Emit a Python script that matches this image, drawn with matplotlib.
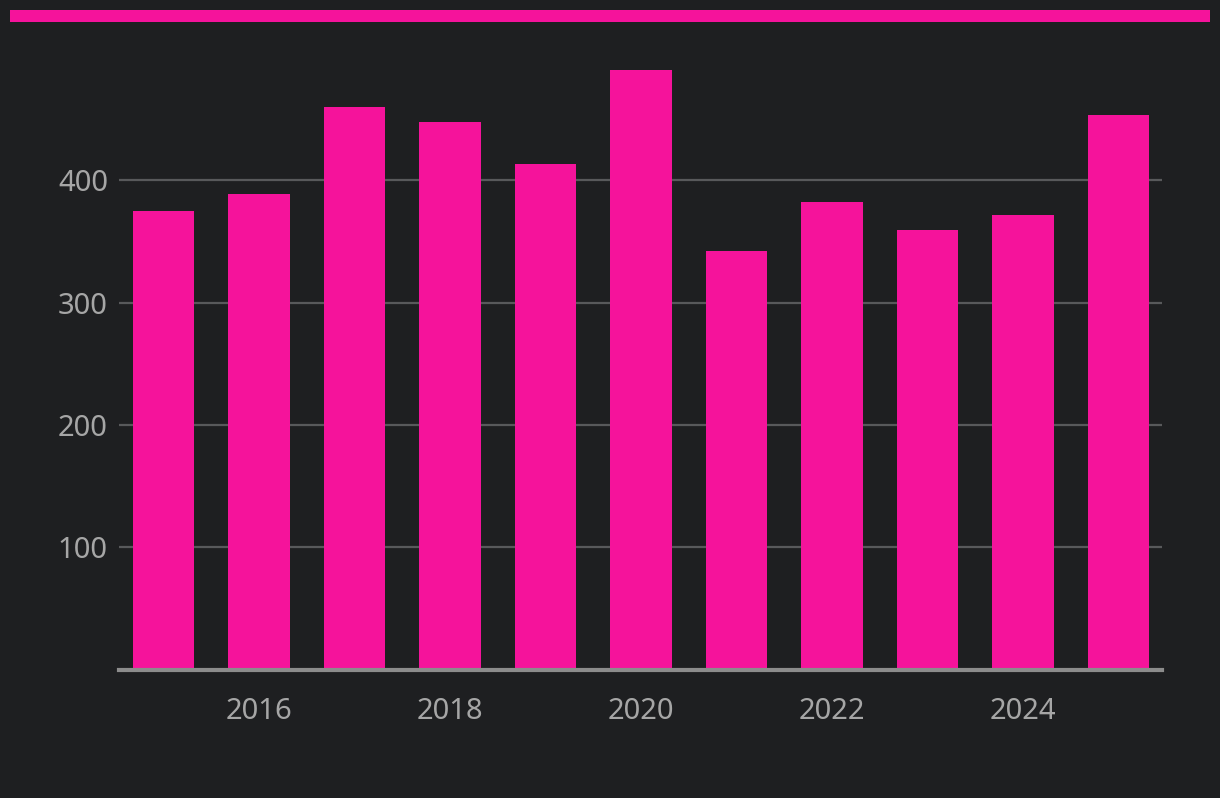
import matplotlib
matplotlib.use("Agg")
import matplotlib.pyplot as plt
from matplotlib.patches import Rectangle

years = [2015, 2016, 2017, 2018, 2019, 2020, 2021, 2022, 2023, 2024, 2025]
values = [375, 389, 460, 448, 413, 490, 342, 382, 359, 372, 453]
yticks = [100, 200, 300, 400]
xticks = [2016, 2018, 2020, 2022, 2024]

BG = "#1e1f21"
PINK = "#f5139b"
W, H = 1220, 798
DPI = 100

plt.rcParams['font.family'] = ['Noto Sans', 'DejaVu Sans']
fig = plt.figure(figsize=(W / DPI, H / DPI), dpi=DPI, facecolor=BG)

# top accent bar
fig.patches.append(Rectangle((10 / W, 1 - 22 / H), 1200 / W, 12 / H,
                             transform=fig.transFigure, facecolor=PINK,
                             edgecolor='none'))

ax_l, ax_r = 119, 1162
ax_t, ax_b = 58, 669.5
ax = fig.add_axes([ax_l / W, 1 - ax_b / H, (ax_r - ax_l) / W, (ax_b - ax_t) / H])
ax.set_facecolor(BG)

ax.bar(years, values, width=0.64, color=PINK, zorder=3)
ax.set_xlim(2014.534, 2025.455)
ax.set_ylim(0, 500)

ax.set_yticks(yticks)
ax.set_xticks(xticks)
ax.set_xticklabels([str(x) for x in xticks])
ax.grid(axis='y', color='#58595b', linewidth=1.6, zorder=0)
ax.grid(axis='x', visible=False)
for s in ['top', 'right', 'left']:
    ax.spines[s].set_visible(False)
ax.spines['bottom'].set_color('#8c8c8c')
ax.spines['bottom'].set_linewidth(3)
ax.spines['bottom'].set_zorder(4)
ax.tick_params(axis='both', length=0, colors='#a6a6a6', labelsize=21)
ax.tick_params(axis='x', pad=20)
ax.tick_params(axis='y', pad=8)

fig.savefig("out.png", dpi=DPI, facecolor=BG)
